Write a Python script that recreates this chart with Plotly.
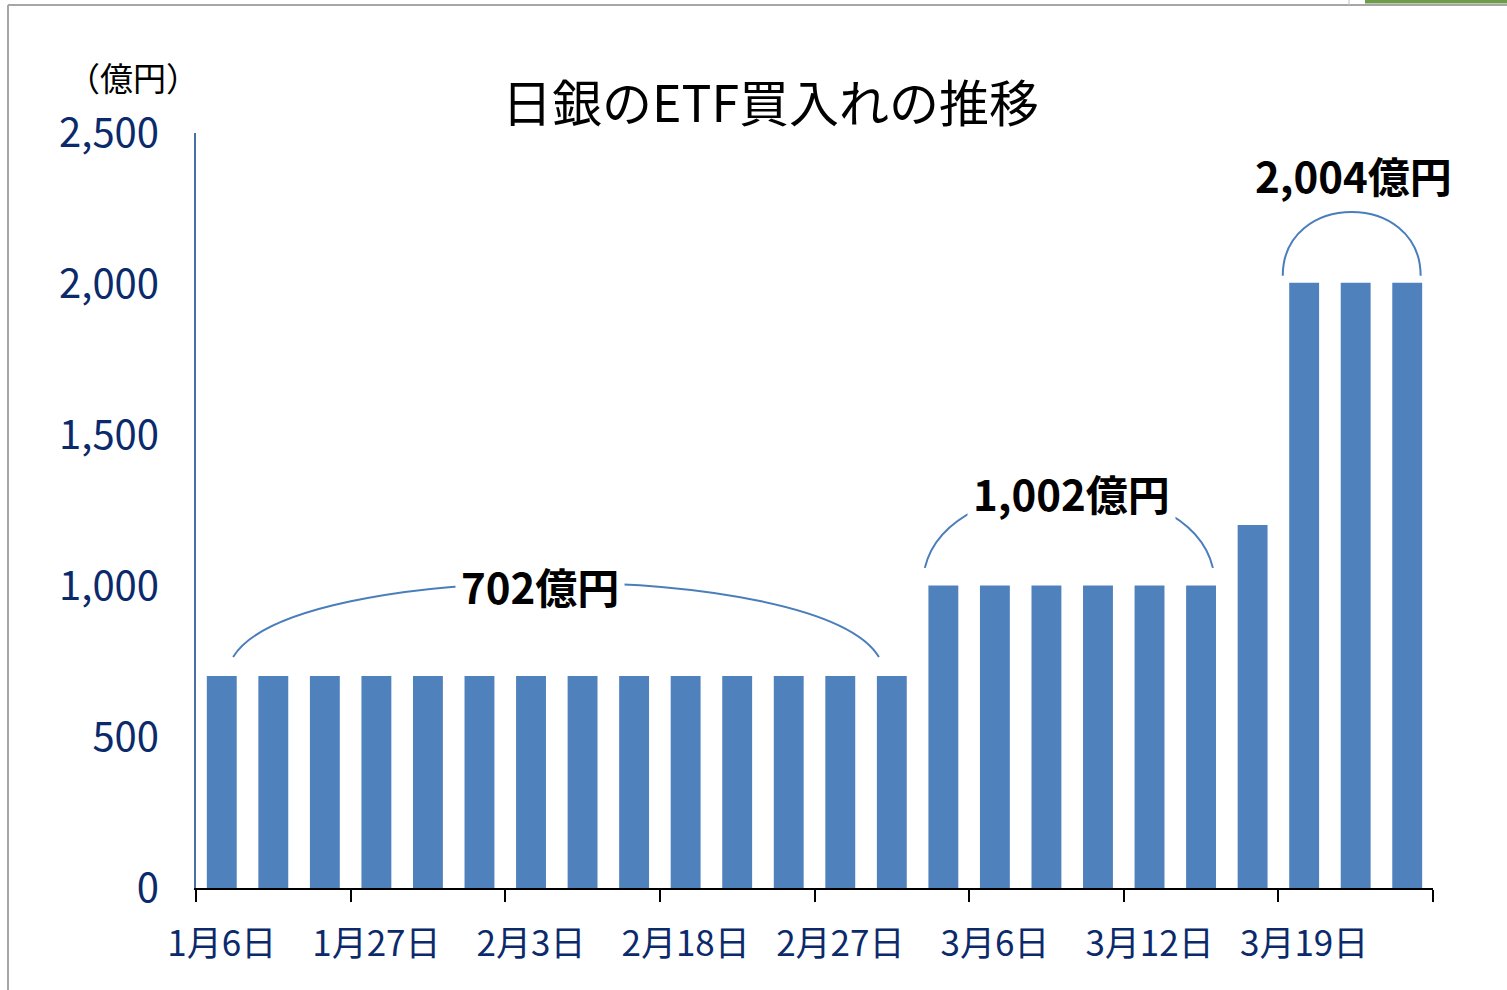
import plotly.graph_objects as go

# ---- data ----
dates = ["1月6日", "1月17日", "1月24日", "1月27日", "1月28日", "1月31日",
         "2月3日", "2月4日", "2月12日", "2月18日", "2月21日", "2月25日",
         "2月27日", "2月28日", "3月2日", "3月6日", "3月9日", "3月10日",
         "3月12日", "3月13日", "3月16日", "3月19日", "3月23日", "3月24日"]
values = [702] * 14 + [1002] * 6 + [1202] + [2004] * 3
ytick_vals = [0, 500, 1000, 1500, 2000, 2500]
label_every = 3

# annotated groups: (label, first index, last index, value)
groups = [("702億円", 0, 13, 702), ("1,002億円", 14, 19, 1002), ("2,004億円", 21, 23, 2004)]

W, H = 1507, 990
ML, MR, MT, MB = 196, 74, 133, 102
PW, PH = W - ML - MR, H - MT - MB


def px(x):
    return (x - ML) / PW


def py(y):
    return (H - MB - y) / PH


BAR = "#4F81BD"
NAVY = "#0B2A6B"
FONT = "Noto Sans CJK JP"

idx = list(range(len(dates)))

fig = go.Figure()
fig.add_trace(go.Bar(x=idx, y=values, width=0.58, marker=dict(color=BAR, line=dict(width=0)),
                     hovertext=dates, hoverinfo="text+y"))

# arcs above groups (offsets in data units relative to the groups)
arc_specs = [
    # (group idx, left x offset, right x offset, base above value, ctrl above value, ctrl x inset)
    (0, 0.22, -0.25, 63, 391, 1.16),
    (1, -0.36, 0.23, 58, 402, 0.49),
    (2, -0.415, 0.26, 23, 305, 0.0),
]
shapes = []
for gi, lo, ro, b, c, a in arc_specs:
    _, i0, i1, v = groups[gi]
    x0, x1 = i0 + lo, i1 + ro
    yb, yc = v + b, v + c
    path = f"M {x0},{yb} C {x0 + a},{yc} {x1 - a},{yc} {x1},{yb}"
    shapes.append(dict(type="path", xref="x", yref="y", path=path,
                       line=dict(color="#4A7EBB", width=2)))

# frame lines of the original screenshot
shapes += [
    dict(type="line", xref="paper", yref="paper", x0=px(8), x1=px(8), y0=py(5), y1=py(990),
         line=dict(color="#A6A6A6", width=2)),
    dict(type="line", xref="paper", yref="paper", x0=px(8), x1=px(1507), y0=py(5), y1=py(5),
         line=dict(color="#A6A6A6", width=2)),
    dict(type="rect", xref="paper", yref="paper", x0=px(1365), x1=px(1507), y0=py(3.5), y1=py(0),
         line=dict(width=0), fillcolor="#6E9B4C"),
    dict(type="line", xref="paper", yref="paper", x0=px(1349), x1=px(1349), y0=py(0), y1=py(5),
         line=dict(color="#BFBFBF", width=1)),
]

label_pos = [(6.17, 1003), (16.48, 1308), (21.95, 2361)]
annotations = []
for (text, i0, i1, v), (lx, ly) in zip(groups, label_pos):
    annotations.append(dict(x=lx, y=ly, xref="x", yref="y", text=f"<b>{text}</b>", showarrow=False,
                            xanchor="center", yanchor="middle",
                            font=dict(family=FONT, size=42, color="black"),
                            bgcolor="white", borderpad=5))

annotations.append(dict(x=px(770), y=py(100), xref="paper", yref="paper", text="日銀のETF買入れの推移",
                        showarrow=False, xanchor="center", yanchor="middle",
                        font=dict(family=FONT, size=50, color="black")))
annotations.append(dict(x=px(133), y=py(77), xref="paper", yref="paper", text="（億円）",
                        showarrow=False, xanchor="center", yanchor="middle",
                        font=dict(family=FONT, size=33, color="black")))

fig.update_layout(
    width=W, height=H,
    margin=dict(l=ML, r=MR, t=MT, b=MB),
    paper_bgcolor="white", plot_bgcolor="white",
    showlegend=False,
    shapes=shapes,
    annotations=annotations,
    font=dict(family=FONT),
)

fig.update_xaxes(
    range=[-0.5, len(dates) - 0.5],
    tickmode="array",
    tickvals=idx[::label_every],
    ticktext=dates[::label_every],
    ticks="outside", ticklen=24, tickcolor="rgba(0,0,0,0)",
    tickfont=dict(family=FONT, size=35, color=NAVY),
    showline=True, linecolor="black", linewidth=2,
    showgrid=False, zeroline=False,
    minor=dict(tickmode="array",
               tickvals=[i - 0.5 for i in range(0, len(dates) + 1, label_every)],
               ticks="outside", ticklen=12, tickcolor="black", tickwidth=2, showgrid=False),
)
fig.update_yaxes(
    range=[0, 2500],
    tickmode="array", tickvals=ytick_vals,
    tickformat=",",
    ticks="outside", ticklen=27, tickcolor="rgba(0,0,0,0)",
    tickfont=dict(family=FONT, size=40, color=NAVY),
    showline=True, linecolor="#4A6FA5", linewidth=2,
    showgrid=False, zeroline=False,
)

fig.write_html("out.html")
